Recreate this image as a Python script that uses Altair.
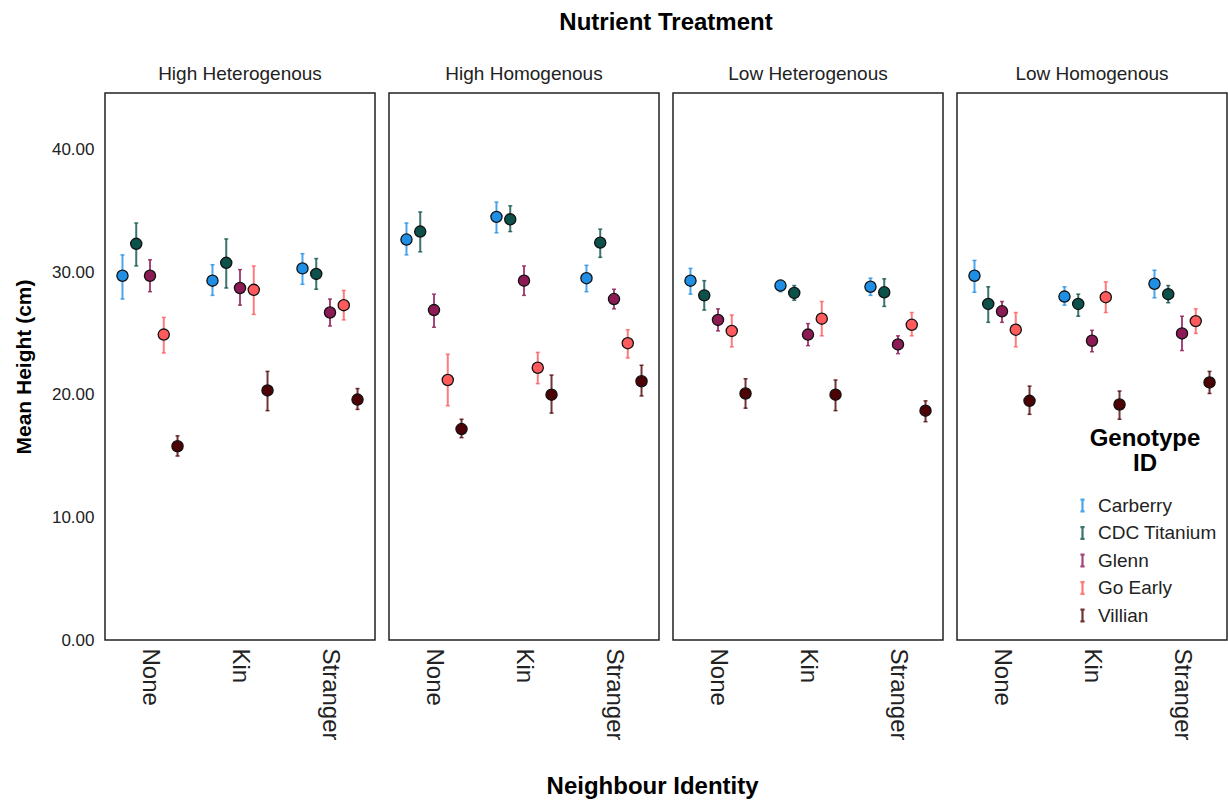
import altair as alt
import pandas as pd

treatments = ["High Heterogenous", "High Homogenous", "Low Heterogenous", "Low Homogenous"]
neighbours = ["None", "Kin", "Stranger"]
genotypes = ["Carberry", "CDC Titanium", "Glenn", "Go Early", "Villian"]
colors = ["#1f8fe6", "#0d514b", "#8c1a55", "#ff5a5c", "#4d0206"]

# per treatment: None(5 genotypes), Kin(5), Stranger(5)
means = {
    "High Heterogenous": [29.7, 32.3, 29.7, 24.9, 15.8, 29.3, 30.75, 28.7, 28.55, 20.35, 30.3, 29.85, 26.7, 27.3, 19.6],
    "High Homogenous": [32.65, 33.3, 26.9, 21.2, 17.2, 34.5, 34.3, 29.3, 22.2, 20.0, 29.5, 32.4, 27.8, 24.2, 21.1],
    "Low Heterogenous": [29.3, 28.1, 26.1, 25.2, 20.1, 28.9, 28.3, 24.9, 26.2, 20.0, 28.8, 28.35, 24.1, 25.7, 18.7],
    "Low Homogenous": [29.7, 27.4, 26.8, 25.3, 19.5, 28.0, 27.4, 24.4, 27.95, 19.2, 29.05, 28.2, 25.0, 26.0, 21.0],
}
lows = {
    "High Heterogenous": [27.8, 30.5, 28.4, 23.4, 15.0, 28.1, 28.7, 27.3, 26.55, 18.7, 29.0, 28.6, 25.6, 26.1, 18.8],
    "High Homogenous": [31.4, 31.65, 25.5, 19.1, 16.5, 33.2, 33.3, 28.1, 20.9, 18.5, 28.4, 31.2, 27.0, 23.0, 19.9],
    "Low Heterogenous": [28.2, 26.9, 25.2, 23.9, 18.9, 28.4, 27.7, 24.0, 24.8, 18.7, 28.1, 27.2, 23.35, 24.8, 17.8],
    "Low Homogenous": [28.35, 25.9, 25.9, 23.9, 18.4, 27.3, 26.4, 23.5, 26.7, 18.0, 27.9, 27.5, 23.6, 25.0, 20.1],
}
highs = {
    "High Heterogenous": [31.4, 34.0, 31.0, 26.3, 16.65, 30.6, 32.7, 30.2, 30.5, 21.9, 31.5, 31.1, 27.8, 28.5, 20.5],
    "High Homogenous": [34.0, 34.9, 28.2, 23.3, 18.0, 35.7, 35.4, 30.5, 23.45, 21.6, 30.55, 33.5, 28.6, 25.3, 22.4],
    "Low Heterogenous": [30.3, 29.3, 27.0, 26.5, 21.3, 29.3, 28.9, 25.8, 27.6, 21.2, 29.5, 29.45, 24.8, 26.7, 19.5],
    "Low Homogenous": [30.95, 28.8, 27.6, 26.7, 20.7, 28.8, 28.2, 25.25, 29.2, 20.3, 30.15, 28.9, 26.4, 27.0, 21.9],
}

rows = []
for t in treatments:
    i = 0
    for n in neighbours:
        for g in genotypes:
            rows.append({"Treatment": t, "Neighbour": n, "Genotype": g,
                         "Mean": means[t][i], "Low": lows[t][i], "High": highs[t][i]})
            i += 1
df = pd.DataFrame(rows)

FONT = "Liberation Sans"
color_scale = alt.Scale(domain=genotypes, range=colors)
x_enc = alt.X("Neighbour:N", sort=neighbours, title=None,
              scale=alt.Scale(paddingInner=0, paddingOuter=0),
              axis=alt.Axis(labelAngle=90, labelFontSize=24, labelColor="#222222",
                            labelAlign="left", labelBaseline="middle",
                            ticks=False, domain=False, labelPadding=7))
xoff = alt.XOffset("Genotype:N", sort=genotypes, scale=alt.Scale(paddingOuter=0.77, paddingInner=0))
y_scale = alt.Scale(domain=[0, 44.6], nice=False)

base = alt.Chart(df)

rules = base.mark_rule(strokeWidth=2, opacity=0.8).encode(
    x=x_enc, xOffset=xoff,
    y=alt.Y("Low:Q", scale=y_scale, title="Mean Height (cm)",
            axis=alt.Axis(values=[0, 10, 20, 30, 40], format=".2f", grid=False,
                          ticks=False, domain=False, labelFontSize=17, labelColor="#222222",
                          labelPadding=10, titleFontSize=21, titleFontWeight="bold",
                          titlePadding=17, titleColor="#000000")),
    y2="High:Q",
    color=alt.Color("Genotype:N", scale=color_scale, sort=genotypes,
                    legend=alt.Legend(title=["Genotype", "ID"], orient="none",
                                      legendX=968, legendY=334,
                                      titleFontSize=24, titleFontWeight="bold",
                                      titleLineHeight=25,
                                      titleAlign="center", titleAnchor="middle",
                                      titleColor="#000000", titlePadding=20,
                                      labelFontSize=19, labelColor="#222222",
                                      symbolType="M-0.35,-1H0.35M0,-1V1M-0.35,1H0.35",
                                      symbolStrokeWidth=2.2, symbolSize=140,
                                      rowPadding=6.5, labelOffset=6)),
)
caps_low = base.mark_tick(thickness=1.5, size=4, opacity=0.8).encode(
    x=x_enc, xOffset=xoff, y=alt.Y("Low:Q", scale=y_scale),
    color=alt.Color("Genotype:N", scale=color_scale, legend=None))
caps_high = base.mark_tick(thickness=1.5, size=4, opacity=0.8).encode(
    x=x_enc, xOffset=xoff, y=alt.Y("High:Q", scale=y_scale),
    color=alt.Color("Genotype:N", scale=color_scale, legend=None))
points = base.mark_point(filled=True, size=125, stroke="#111111", strokeWidth=1.3, opacity=1).encode(
    x=x_enc, xOffset=xoff, y=alt.Y("Mean:Q", scale=y_scale),
    fill=alt.Fill("Genotype:N", scale=color_scale, legend=None),
)

layer = alt.layer(rules, caps_low, caps_high, points).properties(width=270, height=547)

chart = layer.facet(
    column=alt.Column("Treatment:N", sort=treatments, title="Nutrient Treatment",
                      header=alt.Header(titleFontSize=24, titleFontWeight="bold", titleColor="#000000",
                                        titlePadding=20, labelFontSize=19, labelColor="#222222",
                                        labelPadding=8, titleFont=FONT, labelFont=FONT)),
    spacing=12,
).properties(
    title=alt.TitleParams("Neighbour Identity", orient="bottom", anchor="middle",
                          fontSize=24, fontWeight="bold", color="#000000", offset=35,
                          dx=32, font=FONT),
    padding={"left": 13, "top": 11, "right": 0, "bottom": 3},
    background="white",
).configure(font=FONT).configure_view(stroke="#222222", strokeWidth=1.5)

chart.save("out.html", embed_options={"renderer": "svg", "actions": False})
